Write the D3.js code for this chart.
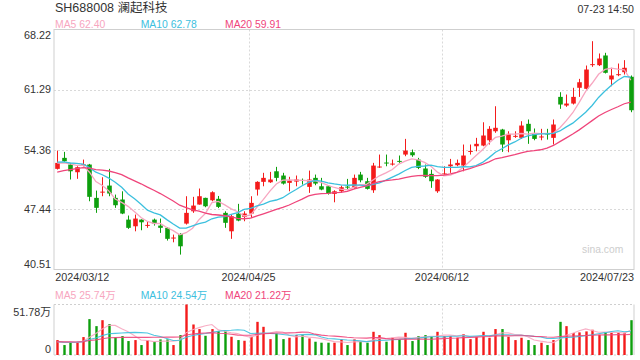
<!DOCTYPE html>
<html><head><meta charset="utf-8">
<script src="https://cdn.jsdelivr.net/npm/d3@7"></script>
<style>
body{margin:0;background:#fff}
svg{display:block}
text{font-family:"Liberation Sans",Arial,"Noto Sans CJK SC",sans-serif}
</style>
</head><body>
<svg id="c" width="640" height="360"></svg>
<script>
// ---------------- data ----------------
const title = "SH688008 澜起科技";
const stamp = "07-23 14:50";
const dates = [
"2024/03/12","2024/03/13","2024/03/14","2024/03/15","2024/03/18","2024/03/19","2024/03/20","2024/03/21","2024/03/22","2024/03/25","2024/03/26","2024/03/27","2024/03/28","2024/03/29",
"2024/04/01","2024/04/02","2024/04/03","2024/04/08","2024/04/09","2024/04/10","2024/04/11","2024/04/12","2024/04/15","2024/04/16","2024/04/17","2024/04/18","2024/04/19","2024/04/22","2024/04/23","2024/04/24","2024/04/25","2024/04/26","2024/04/29","2024/04/30",
"2024/05/06","2024/05/07","2024/05/08","2024/05/09","2024/05/10","2024/05/13","2024/05/14","2024/05/15","2024/05/16","2024/05/17","2024/05/20","2024/05/21","2024/05/22","2024/05/23","2024/05/24","2024/05/27","2024/05/28","2024/05/29","2024/05/30","2024/05/31",
"2024/06/03","2024/06/04","2024/06/05","2024/06/06","2024/06/07","2024/06/11","2024/06/12","2024/06/13","2024/06/14","2024/06/17","2024/06/18","2024/06/19","2024/06/20","2024/06/21","2024/06/24","2024/06/25","2024/06/26","2024/06/27","2024/06/28",
"2024/07/01","2024/07/02","2024/07/03","2024/07/04","2024/07/05","2024/07/08","2024/07/09","2024/07/10","2024/07/11","2024/07/12","2024/07/15","2024/07/16","2024/07/17","2024/07/18","2024/07/19","2024/07/22","2024/07/23"];
const open = [52.13,53.40,52.63,51.74,52.55,52.63,48.78,49.40,50.20,48.78,48.59,46.27,45.50,46.27,45.58,46.27,45.58,45.32,44.12,44.62,45.81,47.23,48.01,48.78,48.50,48.67,47.05,44.92,46.97,46.59,46.97,49.74,50.63,50.58,51.85,51.36,50.51,50.66,50.85,50.05,51.09,50.12,50.12,49.24,49.54,50.08,49.94,51.47,50.70,49.66,52.30,52.86,52.66,53.05,53.78,54.05,53.20,52.17,51.55,49.54,51.50,52.43,52.55,52.51,54.10,54.74,54.82,55.43,56.47,56.67,55.43,55.86,55.71,57.33,56.21,55.79,56.21,55.71,60.44,59.44,59.67,61.49,61.37,64.14,64.10,65.22,62.45,62.98,63.29,62.76];
const high = [54.24,54.09,52.82,52.43,53.20,52.70,49.62,51.16,52.13,49.16,49.54,46.74,46.85,46.30,46.08,46.39,46.39,45.40,44.54,44.70,48.97,48.90,49.86,48.80,49.54,49.00,47.23,46.85,48.09,47.23,48.97,50.70,51.67,51.78,52.36,51.67,51.21,51.36,51.01,51.93,51.47,51.09,50.20,49.66,50.20,50.97,51.47,51.78,51.09,52.82,53.78,53.78,53.20,53.67,55.59,54.36,53.40,52.63,52.05,50.95,52.43,53.28,53.20,54.94,54.94,55.71,57.51,57.06,59.36,56.75,56.47,56.47,57.63,57.83,56.79,56.75,56.75,57.83,60.98,60.71,61.49,62.52,64.06,66.87,65.45,65.53,63.80,64.29,64.68,62.91];
const low = [52.05,52.94,50.90,50.98,52.40,48.39,47.05,48.97,48.97,47.63,46.90,45.20,44.92,45.04,45.32,45.58,44.74,43.85,43.65,42.23,45.70,47.05,48.00,47.70,48.39,47.60,45.32,44.05,46.08,46.08,46.47,49.05,50.12,50.51,50.70,50.32,49.54,50.12,50.32,49.36,50.24,49.66,49.16,48.27,49.36,49.74,49.82,50.58,49.74,49.36,52.24,52.43,52.51,52.82,53.59,53.52,52.10,51.09,49.94,49.36,51.47,51.67,52.43,51.85,53.78,54.16,54.74,54.94,56.29,54.09,54.05,55.71,55.59,55.02,55.43,55.43,55.51,54.94,59.06,59.29,59.56,60.44,61.29,63.91,64.00,63.14,61.67,62.83,63.02,58.67];
const close = [52.82,53.01,51.85,52.32,52.65,48.90,47.63,49.50,49.28,47.93,46.97,45.32,46.39,45.96,45.66,45.78,45.32,44.05,44.20,43.19,47.05,47.89,48.97,47.81,49.43,47.74,45.90,46.66,46.16,46.97,48.20,50.63,51.09,50.90,51.09,50.43,50.78,50.90,50.78,50.90,50.43,49.74,49.28,49.54,50.01,50.02,51.09,50.81,49.82,52.51,52.40,52.78,52.74,52.97,54.24,53.70,52.24,51.21,50.70,50.90,51.60,52.63,52.82,53.67,54.20,55.02,55.98,56.75,56.87,54.94,56.17,55.94,57.13,56.47,55.59,55.87,56.13,57.25,59.56,59.67,60.44,62.13,63.60,64.22,64.87,63.22,62.91,63.06,63.80,58.90];
// volume in 万
const volume = [15.3,10.2,12.9,12.9,18.4,36.8,29.6,35.7,31.7,18.0,19.4,14.3,15.3,10.2,15.3,13.6,16.0,16.0,10.2,20.4,51.78,31.3,26.6,19.7,26.6,24.5,24.5,18.7,15.3,14.6,18.7,34.0,28.9,16.3,22.1,16.3,17.7,20.4,20.4,17.0,13.6,12.6,12.6,12.6,16.0,10.2,16.0,13.6,12.6,23.8,20.4,13.6,17.7,16.0,22.8,14.3,19.4,20.4,18.7,23.8,19.4,19.4,17.7,21.4,16.3,18.7,23.8,17.7,26.6,26.6,18.7,15.3,17.7,15.3,10.2,12.6,10.2,15.3,34.0,29.6,22.6,23.2,24.2,25.9,20.8,23.2,22.8,22.8,22.8,35.7];
// sessions before the first visible day (feed the moving averages)
const priorClose = [49.5,49.8,50.2,49.9,50.5,51.0,50.6,51.2,51.5,52.0,52.6,53.2,52.8,53.4,53.0,52.9,52.5,53.1,52.7];
const priorVolume = [14,13,15,12,14,16,13,12,15,14,13,14,12,15,13,14,12,13,14];
const priceTicks = [68.22,61.29,54.36,47.44,40.51];
const volTicks = [51.78,0];
const dateTicks = ["2024/03/12","2024/04/25","2024/06/12","2024/07/23"];
const maPeriods = [5,10,20];
const maNames = ["MA5","MA10","MA20"];
const priceLegend = ["62.40","62.78","59.91"];
const volLegend = ["25.74万","24.54万","21.22万"];
const watermark = "sina.com";

// ---------------- style ----------------
const UP = "#f41b1b", DOWN = "#0d9f0d";
const MA_COLORS = ["#f7a6c0","#3cc0de","#ef457b"];
const L = 54, R = 634, PT = 29.5, PB = 269.5, VT = 304.5, VB = 355;

const svg = d3.select("#c");
const x = d3.scaleBand().domain(dates).range([L, R]).padding(0);
const bw = x.bandwidth();
const cx = d => x(d) + bw / 2;
const gx = d => cx(d) - 2;
const y = d3.scaleLinear().domain([priceTicks[4], priceTicks[0]]).range([PB, PT]);
const yv = d3.scaleLinear().domain([0, volTicks[0]]).range([VB, VT]);

function movingAvg(prior, vals, p) {
  const all = prior.concat(vals), off = prior.length;
  return vals.map((v, i) => d3.mean(all.slice(off + i - p + 1, off + i + 1)));
}

// title & stamp
svg.append("text").attr("x", 55).attr("y", 8).attr("dominant-baseline", "central")
  .attr("font-size", 12.5).attr("fill", "#333").text(title);
svg.append("text").attr("x", 634).attr("y", 9).attr("dominant-baseline", "central")
  .attr("text-anchor", "end").attr("font-size", 10.6).attr("fill", "#333").text(stamp);

// legends
const legX = [55, 140.7, 225];
function legend(yy, vals) {
  maNames.forEach((n, i) => {
    svg.append("text").attr("x", legX[i]).attr("y", yy).attr("dominant-baseline", "central")
      .attr("font-size", 10.4).attr("fill", MA_COLORS[i]).text(n + " " + vals[i]);
  });
}
legend(24, priceLegend);
legend(295, volLegend);

// price grid
const grid = svg.append("g");
grid.selectAll("line.h").data(priceTicks.slice(1, 4)).join("line")
  .attr("x1", L).attr("x2", R).attr("y1", d => Math.round(y(d)) + 0.5).attr("y2", d => Math.round(y(d)) + 0.5)
  .attr("stroke", "#d9d9d9").attr("stroke-dasharray", "2,2");
grid.selectAll("line.v").data(dateTicks.slice(1, 3)).join("line")
  .attr("x1", d => Math.round(gx(d)) + 0.5).attr("x2", d => Math.round(gx(d)) + 0.5)
  .attr("y1", PT).attr("y2", PB).attr("stroke", "#d9d9d9").attr("stroke-dasharray", "2,2");
svg.append("rect").attr("x", L).attr("y", PT).attr("width", R - L).attr("height", PB - PT)
  .attr("fill", "none").attr("stroke", "#cfcfcf");

// watermark
svg.append("text").attr("x", 582).attr("y", 253).attr("font-size", 10.3).attr("fill", "#cdcdcd").text(watermark);

// y axis
const yAxis = svg.append("g").attr("transform", `translate(${L},0)`)
  .call(d3.axisLeft(y).tickValues(priceTicks).tickSize(0).tickPadding(3).tickFormat(d3.format(".2f")));
yAxis.select(".domain").remove();
yAxis.selectAll("text").attr("font-size", 10.8).attr("fill", "#333").attr("font-family", null)
  .attr("dy", (d, i) => i === 0 ? "0.85em" : i === priceTicks.length - 1 ? "-0.2em" : "0.32em");

// x axis
const xAxis = svg.append("g").attr("transform", `translate(-2,${PB})`)
  .call(d3.axisBottom(x).tickValues(dateTicks).tickSize(0).tickPadding(4));
xAxis.select(".domain").remove();
xAxis.selectAll("text").attr("font-size", 10.8).attr("fill", "#333").attr("font-family", null)
  .attr("text-anchor", (d, i) => i === 0 ? "start" : i === dateTicks.length - 1 ? "end" : "middle")
  .attr("x", (d, i) => i === dateTicks.length - 1 ? (R + 2) - cx(d) : 0);

// candles
const idx = d3.range(dates.length);
const cg = svg.append("g");
cg.selectAll("line").data(idx).join("line")
  .attr("x1", i => Math.round(cx(dates[i])) + 0.5).attr("x2", i => Math.round(cx(dates[i])) + 0.5)
  .attr("y1", i => y(high[i])).attr("y2", i => y(low[i]))
  .attr("stroke", i => close[i] >= open[i] ? UP : DOWN).attr("stroke-width", 1);
const bodyW = 4.6;
cg.selectAll("rect").data(idx).join("rect")
  .attr("x", i => Math.round(cx(dates[i])) + 0.5 - bodyW / 2)
  .attr("width", bodyW)
  .attr("y", i => y(Math.max(open[i], close[i])))
  .attr("height", i => Math.max(1, Math.abs(y(open[i]) - y(close[i]))))
  .attr("fill", i => close[i] >= open[i] ? UP : DOWN);

// price MAs
maPeriods.forEach((p, k) => {
  const m = movingAvg(priorClose, close, p);
  svg.append("path").datum(idx)
    .attr("d", d3.line().x(i => cx(dates[i])).y(i => y(m[i])))
    .attr("fill", "none").attr("stroke", MA_COLORS[k]).attr("stroke-width", 1.3);
});

// volume panel
const vg = svg.append("g");
vg.selectAll("line.h").data([VT, VB]).join("line")
  .attr("x1", L).attr("x2", R).attr("y1", d => d).attr("y2", d => d)
  .attr("stroke", "#cfcfcf").attr("stroke-dasharray", "2,2");
vg.selectAll("line.s").data([L, R]).join("line")
  .attr("x1", d => d).attr("x2", d => d).attr("y1", VT).attr("y2", VB).attr("stroke", "#cfcfcf");
vg.selectAll("line.v").data(dateTicks.slice(1, 3)).join("line")
  .attr("x1", d => Math.round(gx(d)) + 0.5).attr("x2", d => Math.round(gx(d)) + 0.5)
  .attr("y1", VT).attr("y2", VB).attr("stroke", "#d9d9d9").attr("stroke-dasharray", "2,2");

const vAxis = svg.append("g").attr("transform", `translate(${L},0)`)
  .call(d3.axisLeft(yv).tickValues(volTicks).tickSize(0).tickPadding(3).tickFormat(d => d === 0 ? "0" : d3.format(".2f")(d) + "万"));
vAxis.select(".domain").remove();
vAxis.selectAll("text").attr("font-size", 10.8).attr("fill", "#333").attr("font-family", null)
  .attr("dy", d => d === 0 ? "-0.2em" : "1.0em");

const vbW = 2.4;
vg.selectAll("rect").data(idx).join("rect")
  .attr("x", i => Math.round(cx(dates[i])) + 0.5 - vbW / 2)
  .attr("width", vbW)
  .attr("y", i => yv(volume[i]))
  .attr("height", i => VB - yv(volume[i]))
  .attr("fill", i => close[i] >= open[i] ? UP : DOWN);

maPeriods.forEach((p, k) => {
  const m = movingAvg(priorVolume, volume, p);
  svg.append("path").datum(idx)
    .attr("d", d3.line().x(i => cx(dates[i])).y(i => yv(m[i])))
    .attr("fill", "none").attr("stroke", MA_COLORS[k]).attr("stroke-width", 1.1).attr("opacity", 0.9);
});
</script>
</body></html>
